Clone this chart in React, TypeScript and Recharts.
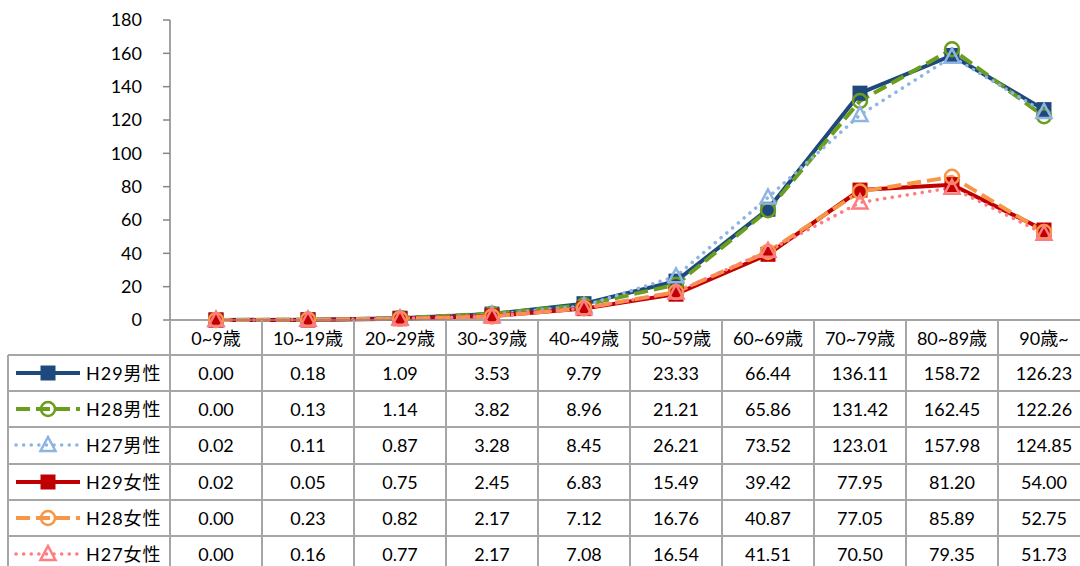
import React from 'react';
import { LineChart, Line, XAxis, YAxis } from 'recharts';

const categories = ['0~9歳', '10~19歳', '20~29歳', '30~39歳', '40~49歳', '50~59歳', '60~69歳', '70~79歳', '80~89歳', '90歳~'];
const yTicks = [0, 20, 40, 60, 80, 100, 120, 140, 160, 180];

const h29m = [0.0, 0.18, 1.09, 3.53, 9.79, 23.33, 66.44, 136.11, 158.72, 126.23];
const h28m = [0.0, 0.13, 1.14, 3.82, 8.96, 21.21, 65.86, 131.42, 162.45, 122.26];
const h27m = [0.02, 0.11, 0.87, 3.28, 8.45, 26.21, 73.52, 123.01, 157.98, 124.85];
const h29f = [0.02, 0.05, 0.75, 2.45, 6.83, 15.49, 39.42, 77.95, 81.2, 54.0];
const h28f = [0.0, 0.23, 0.82, 2.17, 7.12, 16.76, 40.87, 77.05, 85.89, 52.75];
const h27f = [0.0, 0.16, 0.77, 2.17, 7.08, 16.54, 41.51, 70.5, 79.35, 51.73];

type Shape = 'square' | 'circle' | 'triangle';
type Style = 'solid' | 'dashed' | 'dotted';

const series: { key: string; name: string; values: number[]; color: string; style: Style; shape: Shape }[] = [
  { key: 'h29m', name: 'H29男性', values: h29m, color: '#1F497D', style: 'solid', shape: 'square' },
  { key: 'h28m', name: 'H28男性', values: h28m, color: '#6A9E1C', style: 'dashed', shape: 'circle' },
  { key: 'h27m', name: 'H27男性', values: h27m, color: '#8DB4E2', style: 'dotted', shape: 'triangle' },
  { key: 'h29f', name: 'H29女性', values: h29f, color: '#C00000', style: 'solid', shape: 'square' },
  { key: 'h28f', name: 'H28女性', values: h28f, color: '#F79646', style: 'dashed', shape: 'circle' },
  { key: 'h27f', name: 'H27女性', values: h27f, color: '#FF7C80', style: 'dotted', shape: 'triangle' },
];

const data = categories.map((c, i) => {
  const row: Record<string, string | number> = { category: c };
  series.forEach((s) => {
    row[s.key] = s.values[i];
  });
  return row;
});

const FONT = "Lato, 'Noto Sans CJK JP', sans-serif";
const CHART_W = 1090;
const CHART_H = 566;
const PLOT_LEFT = 170;
const PLOT_BOTTOM = 320;
const COL_W = (CHART_W - PLOT_LEFT) / categories.length;
const HEADER_H = 35;
const ROW_H = 36.2;
const TABLE_LEFT = 8;
const GRID = '#A6A6A6';
const AXIS = '#868686';

function lineProps(style: Style) {
  if (style === 'dashed') return { strokeWidth: 4, strokeDasharray: '14 6', strokeLinecap: 'butt' as const };
  if (style === 'dotted') return { strokeWidth: 3.5, strokeDasharray: '0.1 7.5', strokeLinecap: 'round' as const };
  return { strokeWidth: 4, strokeLinecap: 'butt' as const };
}

function Marker({ shape, cx, cy, color }: { shape: Shape; cx: number; cy: number; color: string }) {
  if (shape === 'square') {
    return <rect x={cx - 7.5} y={cy - 7.5} width={15} height={15} fill={color} />;
  }
  if (shape === 'circle') {
    return <circle cx={cx} cy={cy} r={7} fill="none" stroke={color} strokeWidth={2.5} />;
  }
  return (
    <polygon
      points={`${cx},${cy - 8} ${cx + 7.5},${cy + 6} ${cx - 7.5},${cy + 6}`}
      fill="none"
      stroke={color}
      strokeWidth={2.5}
      strokeLinejoin="miter"
    />
  );
}

function LegendSample({ s }: { s: (typeof series)[number] }) {
  const lp = lineProps(s.style);
  return (
    <svg width={70} height={20} style={{ position: 'absolute', left: 14 - TABLE_LEFT, top: ROW_H / 2 - 10 }}>
      <line
        x1={2}
        y1={10}
        x2={66}
        y2={10}
        stroke={s.color}
        strokeWidth={lp.strokeWidth}
        strokeDasharray={lp.strokeDasharray}
        strokeLinecap={lp.strokeLinecap}
      />
      <Marker shape={s.shape} cx={34} cy={10} color={s.color} />
    </svg>
  );
}

export default function App() {
  const tableTop = PLOT_BOTTOM + HEADER_H;
  return (
    <div style={{ position: 'absolute', left: 0, top: 0, width: 1080, height: 566, overflow: 'hidden', background: '#fff', fontFamily: FONT }}>
      <div style={{ position: 'absolute', left: 0, top: 0, width: CHART_W, height: CHART_H }}>
        <LineChart width={CHART_W} height={CHART_H} data={data} margin={{ top: 20, right: 0, left: 0, bottom: CHART_H - PLOT_BOTTOM - HEADER_H }}>
          <XAxis
            dataKey="category"
            height={HEADER_H}
            padding={{ left: COL_W / 2, right: COL_W / 2 }}
            axisLine={{ stroke: AXIS, strokeWidth: 1.5 }}
            tickLine={false}
            tickSize={0}
            tickMargin={12}
            interval={0}
            tick={{ fill: '#000', fontSize: 18, fontFamily: FONT }}
          />
          <YAxis
            width={PLOT_LEFT}
            domain={[0, 180]}
            ticks={yTicks}
            interval={0}
            axisLine={{ stroke: AXIS, strokeWidth: 1.5 }}
            tickLine={{ stroke: AXIS, strokeWidth: 1.5 }}
            tickSize={7}
            tickMargin={21}
            tick={{ fill: '#000', fontSize: 18, fontFamily: FONT }}
          />
          {series.map((s) => {
            const lp = lineProps(s.style);
            return (
              <Line
                key={s.key}
                dataKey={s.key}
                name={s.name}
                type="linear"
                stroke={s.color}
                strokeWidth={lp.strokeWidth}
                strokeDasharray={lp.strokeDasharray}
                strokeLinecap={lp.strokeLinecap}
                isAnimationActive={false}
                activeDot={false}
                dot={(p: any) => <Marker key={`${s.key}-${p.index}`} shape={s.shape} cx={p.cx} cy={p.cy} color={s.color} />}
              />
            );
          })}
        </LineChart>

        {/* data table grid */}
        {categories.map((_, k) => (
          <div key={`v${k}`} style={{ position: 'absolute', left: PLOT_LEFT + COL_W * k - 1, top: PLOT_BOTTOM, width: 2, height: CHART_H - PLOT_BOTTOM + 10, background: GRID }} />
        ))}
        <div style={{ position: 'absolute', left: TABLE_LEFT - 1, top: tableTop, width: 2, height: CHART_H, background: GRID }} />
        {series.map((_, r) => (
          <div key={`h${r}`} style={{ position: 'absolute', left: TABLE_LEFT, top: tableTop + ROW_H * r - 1, width: CHART_W - TABLE_LEFT, height: 2, background: GRID }} />
        ))}

        {/* rows */}
        {series.map((s, r) => (
          <div key={`row${s.key}`} style={{ position: 'absolute', left: 0, top: tableTop + ROW_H * r, height: ROW_H, width: CHART_W }}>
            <div style={{ position: 'absolute', left: TABLE_LEFT, top: 0, width: PLOT_LEFT - TABLE_LEFT, height: ROW_H }}>
              <LegendSample s={s} />
              <div style={{ position: 'absolute', left: 86 - TABLE_LEFT, top: 0, height: ROW_H, lineHeight: `${ROW_H}px`, fontSize: 18, letterSpacing: 1, color: '#000', whiteSpace: 'nowrap' }}>
                {s.name}
              </div>
            </div>
            {s.values.map((v, i) => (
              <div
                key={`${s.key}c${i}`}
                style={{ position: 'absolute', left: PLOT_LEFT + COL_W * i, top: 0, width: COL_W, height: ROW_H, lineHeight: `${ROW_H}px`, textAlign: 'center', fontSize: 18, color: '#000' }}
              >
                {v.toFixed(2)}
              </div>
            ))}
          </div>
        ))}
      </div>
    </div>
  );
}
